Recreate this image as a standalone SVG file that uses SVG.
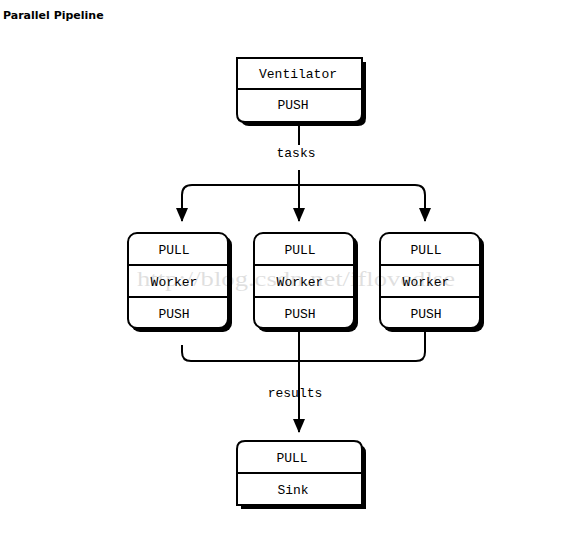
<svg xmlns="http://www.w3.org/2000/svg" width="569" height="535" viewBox="0 0 569 535">
<style>
.sh{fill:#000}
.bx{fill:#fff;stroke:#000;stroke-width:2}
.dv{stroke:#000;stroke-width:2}
.t{font-family:"Liberation Mono","DejaVu Sans Mono",monospace;font-size:13px;fill:#000;text-anchor:middle}
.c{fill:none;stroke:#000;stroke-width:2}
.wm{font-family:"Liberation Serif",serif;font-size:22px;fill:#000;opacity:0.12}
</style>
<defs>
<marker id="ah" markerWidth="14" markerHeight="12" refX="13" refY="6" orient="auto" markerUnits="userSpaceOnUse" viewBox="0 0 14 12">
<path d="M0,0 L14,6 L0,12 Z" fill="#000"/>
</marker>
</defs>
<rect width="569" height="535" fill="#fff"/>
<text x="3" y="19" font-family="DejaVu Sans,sans-serif" font-size="11" font-weight="bold" fill="#000">Parallel Pipeline</text>

<g id="connectors">
<path class="c" d="M299,122 V145"/>
<path class="c" d="M299,170 V221" marker-end="url(#ah)"/>
<path class="c" d="M182,221 V195 Q182,185 192,185 H415 Q425,185 425,195 V221" />
<path class="c" d="M182,200 V221" marker-end="url(#ah)"/>
<path class="c" d="M425,200 V221" marker-end="url(#ah)"/>
<path class="c" d="M182,345 V352 Q182,361 191,361 H416 Q425,361 425,352 V328"/>
<path class="c" d="M299,328 V432" marker-end="url(#ah)"/>
<text class="t" x="296" y="157">tasks</text>
<text class="t" x="295" y="397">results</text>
</g>

<g id="ventilator">
<path class="sh" d="M241,62 H366 V118 Q366,126 358,126 H249 Q241,126 241,118 Z"/>
<path class="bx" d="M237,58 H362 V114 Q362,122 354,122 H245 Q237,122 237,114 Z"/>
<line class="dv" x1="237" y1="89" x2="362" y2="89"/>
<text class="t" x="298" y="78">Ventilator</text>
<text class="t" x="293" y="109">PUSH</text>
</g>

<g id="worker1">
<rect class="sh" x="131" y="236" width="101" height="96" rx="9"/>
<rect class="bx" x="128" y="233" width="100" height="95" rx="9"/>
<line class="dv" x1="128" y1="265" x2="228" y2="265"/>
<line class="dv" x1="128" y1="297" x2="228" y2="297"/>
<text class="t" x="174" y="254">PULL</text>
<text class="t" x="174" y="286">Worker</text>
<text class="t" x="174" y="318">PUSH</text>
</g>
<g id="worker2">
<rect class="sh" x="257" y="236" width="101" height="96" rx="9"/>
<rect class="bx" x="254" y="233" width="100" height="95" rx="9"/>
<line class="dv" x1="254" y1="265" x2="354" y2="265"/>
<line class="dv" x1="254" y1="297" x2="354" y2="297"/>
<text class="t" x="300" y="254">PULL</text>
<text class="t" x="300" y="286">Worker</text>
<text class="t" x="300" y="318">PUSH</text>
</g>
<g id="worker3">
<rect class="sh" x="383" y="236" width="101" height="96" rx="9"/>
<rect class="bx" x="380" y="233" width="100" height="95" rx="9"/>
<line class="dv" x1="380" y1="265" x2="480" y2="265"/>
<line class="dv" x1="380" y1="297" x2="480" y2="297"/>
<text class="t" x="426" y="254">PULL</text>
<text class="t" x="426" y="286">Worker</text>
<text class="t" x="426" y="318">PUSH</text>
</g>

<g id="sink">
<path class="sh" d="M241,453 Q241,445 249,445 H358 Q366,445 366,453 V509 H241 Z"/>
<path class="bx" d="M237,449 Q237,441 245,441 H354 Q362,441 362,449 V505 H237 Z"/>
<line class="dv" x1="237" y1="473" x2="362" y2="473"/>
<text class="t" x="292" y="462">PULL</text>
<text class="t" x="293" y="494">Sink</text>
</g>

<text class="wm" x="137" y="286" textLength="318" lengthAdjust="spacingAndGlyphs">http://blog.csdn.net/iflovedlse</text>
</svg>
